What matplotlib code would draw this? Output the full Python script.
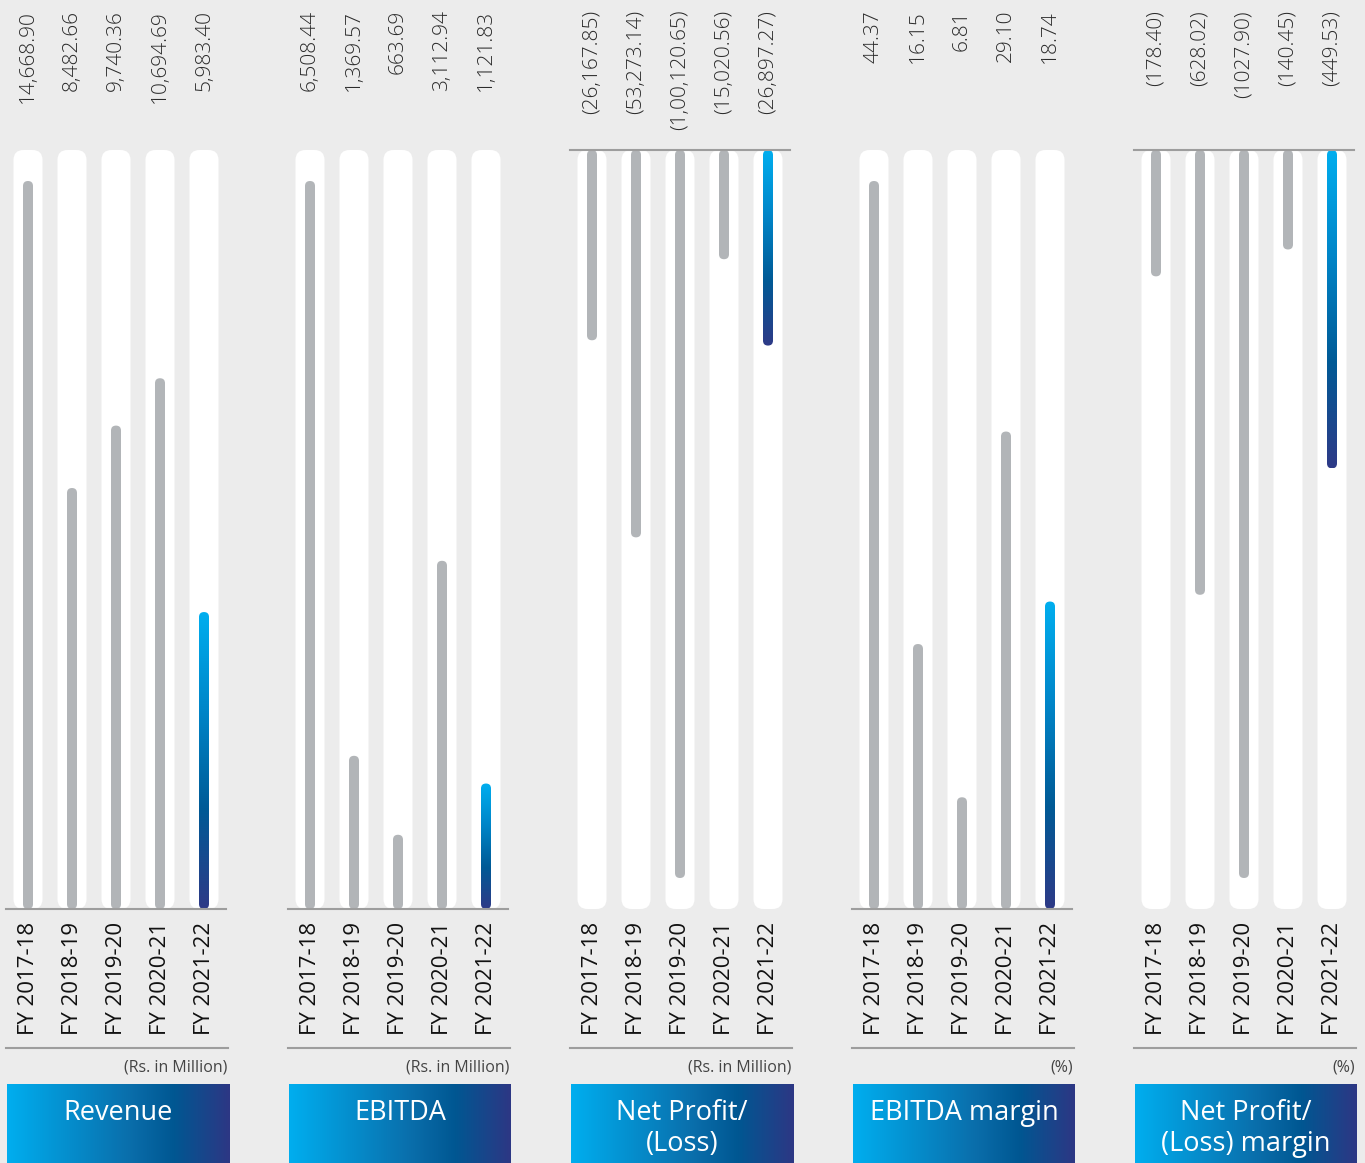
import numpy as np
import matplotlib.pyplot as plt
from matplotlib.patches import FancyBboxPatch
from matplotlib.colors import LinearSegmentedColormap
from matplotlib.lines import Line2D
import matplotlib.transforms as mtransforms

plt.rcParams['font.family'] = ['Open Sans', 'DejaVu Sans']

# data
years = ['FY 2017-18', 'FY 2018-19', 'FY 2019-20', 'FY 2020-21', 'FY 2021-22']
revenue = [14668.90, 8482.66, 9740.36, 10694.69, 5983.40]
ebitda = [6508.44, 1369.57, 663.69, 3112.94, 1121.83]
net_profit = [-26167.85, -53273.14, -100120.65, -15020.56, -26897.27]
ebitda_margin = [44.37, 16.15, 6.81, 29.10, 18.74]
net_margin = [-178.40, -628.02, -1027.90, -140.45, -449.53]

titles = ['Revenue', 'EBITDA', 'Net Profit/\n(Loss)', 'EBITDA margin', 'Net Profit/\n(Loss) margin']
units = ['(Rs. in Million)', '(Rs. in Million)', '(Rs. in Million)', '(%)', '(%)']
series = [revenue, ebitda, net_profit, ebitda_margin, net_margin]
styles = ['comma', 'comma', 'indian', 'plain', 'plain']


def fmt(v, style):
    a = abs(v)
    if style == 'comma':
        s = f'{a:,.2f}'
    elif style == 'indian':
        whole, dec = f'{a:.2f}'.split('.')
        head, tail = whole[:-3], whole[-3:]
        groups = []
        while len(head) > 2:
            groups.insert(0, head[-2:])
            head = head[:-2]
        if head:
            groups.insert(0, head)
        s = ','.join(groups + [tail]) + '.' + dec
    else:
        s = f'{a:.2f}'
    return f'({s})' if v < 0 else s


bar_cmap = LinearSegmentedColormap.from_list(
    'bar', ['#00aeef', '#0085c8', '#005a96', '#2e3a87'])
title_cmap = LinearSegmentedColormap.from_list(
    'title', [(0, '#00aeef'), (0.55, '#0a6eab'), (0.75, '#005792'), (1, '#2d3784')])

W, H = 1365, 1163
bg = '#ececec'
grey = '#b2b5b8'
line_c = '#9d9d9d'

fig = plt.figure(figsize=(W / 100, H / 100), dpi=100, facecolor=bg)

panel_left = [6, 288, 570, 852, 1134]
track_top, track_bot = 150, 909
ax_h = track_bot - track_top
sx = 44.0  # px per category

for k in range(5):
    vals = np.array(series[k])
    neg = vals.min() < 0
    left = panel_left[k]
    ax = fig.add_axes([left / W, 1 - track_bot / H, 220 / W, ax_h / H])
    ax.set_facecolor('none')
    vmax = np.abs(vals).max()
    span = vmax * ax_h / 728
    ylo, yhi = (-span, 0) if neg else (0, span)
    sy = ax_h / span
    asp = sx / sy

    for i, v in enumerate(vals):
        track = FancyBboxPatch((i - 0.33, ylo), 0.66, span,
                               boxstyle='round,pad=0,rounding_size=0.23',
                               mutation_aspect=asp, fc='white', ec='none', zorder=1)
        ax.add_patch(track)
        bw = 10 / sx
        lo, hi = min(0, v), max(0, v)
        last = i == len(vals) - 1
        bar = FancyBboxPatch((i - bw / 2, lo), bw, hi - lo,
                             boxstyle=f'round,pad=0,rounding_size={bw / 2}',
                             mutation_aspect=asp,
                             fc='none' if last else grey, ec='none', zorder=3)
        ax.add_patch(bar)
        if last:
            im = ax.imshow(np.linspace(0, 1, 256).reshape(-1, 1), cmap=bar_cmap,
                           extent=[i - bw / 2, i + bw / 2, lo, hi], origin='upper',
                           aspect='auto', zorder=3)
            im.set_clip_path(bar)

        trans = mtransforms.blended_transform_factory(ax.transData, fig.transFigure)
        ax.text(i, 1 - 10 / H, fmt(v, styles[k]), rotation=90, ha='center', va='top',
                transform=trans, fontsize=15, fontweight='light', color='#2b2b2b')

    ax.set_xlim(-0.5, 4.5)
    ax.set_ylim(ylo, yhi)
    ax.axhline(0, color=line_c, lw=1.5, clip_on=False, zorder=4)
    ax.set_xticks(range(5))
    ax.set_xticklabels(years, rotation=90, fontsize=16, va='top', ha='center', color='#111111')
    ax.tick_params(axis='x', length=0, pad=9)
    ax.set_yticks([])
    for s in ax.spines.values():
        s.set_visible(False)

    # footer
    fig.add_artist(Line2D([left / W, (left + 222) / W], [1 - 1048 / H] * 2,
                          color=line_c, lw=1.5))
    fig.text((left + 221) / W, 1 - 1067 / H, units[k], ha='right', va='center',
             fontsize=11.5, color='#444444')
    tax = fig.add_axes([(left + 1) / W, 0, 222 / W, (H - 1084) / H])
    tax.imshow(np.linspace(0, 1, 256).reshape(1, -1), cmap=title_cmap,
               aspect='auto', extent=[0, 1, 0, 1])
    tax.axis('off')
    tax.text(0.5, 1 - 15 / (H - 1084), titles[k], ha='center', va='top', color='white',
             fontsize=19.5, linespacing=1.12, transform=tax.transAxes)

fig.savefig('out.png', dpi=100, facecolor=bg)
